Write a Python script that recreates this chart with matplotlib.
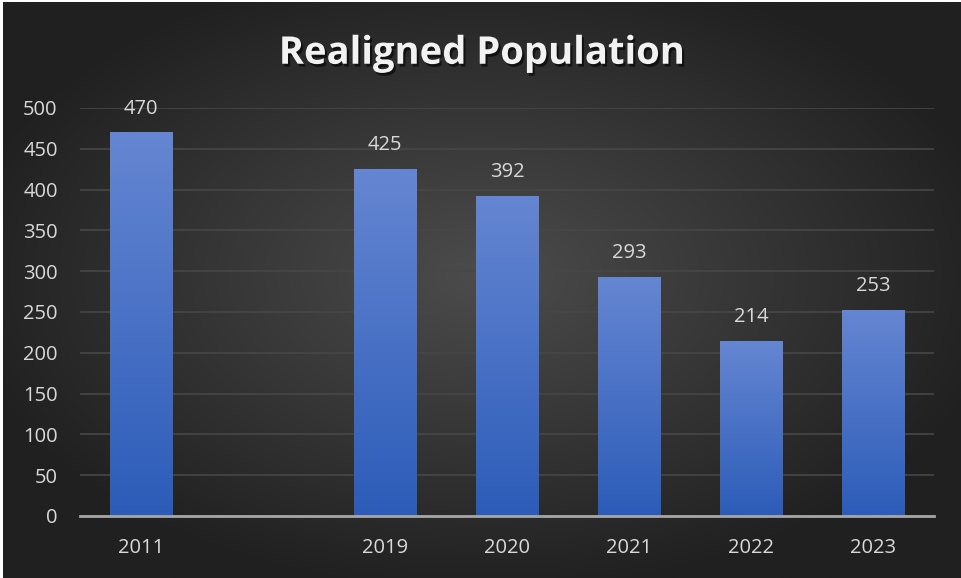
import numpy as np
import matplotlib
matplotlib.use('Agg')
import matplotlib.pyplot as plt
import matplotlib.patheffects as pe

plt.rcParams['font.family'] = ['Open Sans', 'DejaVu Sans']

years = ['2011', '', '2019', '2020', '2021', '2022', '2023']
population = [470, None, 425, 392, 293, 214, 253]
yticks = [0, 50, 100, 150, 200, 250, 300, 350, 400, 450, 500]

fig = plt.figure(figsize=(9.61, 5.78), dpi=100, facecolor='white')

# radial gradient background
bg = fig.add_axes([0.003, 0.0, 0.997, 0.997])
yy, xx = np.mgrid[-1:1:300j, -1:1:500j]
r = np.sqrt((xx * 0.9) ** 2 + ((yy + 0.05) * 0.9) ** 2)
r = np.clip(r, 0, 1)
c0 = np.array([0x4c, 0x4c, 0x4c]) / 255
c1 = np.array([0x20, 0x20, 0x20]) / 255
img = c0[None, None, :] * (1 - r[..., None]) + c1[None, None, :] * r[..., None]
bg.imshow(img, aspect='auto', extent=[0, 1, 0, 1], interpolation='bicubic')
bg.set_axis_off()

ax = fig.add_axes([0.0832, 0.1073, 0.8887, 0.7059])
ax.patch.set_alpha(0)
x = np.arange(len(years))
vals = [v if v is not None else 0 for v in population]
bars = ax.bar(x, vals, width=0.51, color='none', zorder=3)

grad = np.linspace(0, 1, 256)[:, None]
top = np.array([0x65, 0x86, 0xd2]) / 255
bot = np.array([0x2c, 0x5c, 0xb8]) / 255
gimg = top[None, None, :] * (1 - grad[..., None]) + bot[None, None, :] * grad[..., None]
for b, v in zip(bars, population):
    if v is None:
        continue
    x0 = b.get_x()
    w = b.get_width()
    im = ax.imshow(gimg, aspect='auto', extent=[x0, x0 + w, 0, v], zorder=3)
    im.set_clip_path(b)
    ax.text(x0 + w / 2, v + 17, str(v), ha='center', va='bottom',
            fontsize=14.5, color='#d9d9d9', zorder=4)

ax.set_xlim(-0.5, len(years) - 0.5)
ax.set_ylim(0, 500)
ax.set_yticks(yticks)
ax.set_xticks(x)
ax.set_xticklabels(years)
ax.tick_params(axis='both', length=0, labelsize=14.5, colors='#d9d9d9')
ax.tick_params(axis='x', pad=16)
ax.tick_params(axis='y', pad=16)
ax.grid(axis='y', color='#474747', linewidth=1.2, zorder=0)
for s in ['top', 'right', 'left']:
    ax.spines[s].set_visible(False)
ax.spines['bottom'].set_color('#a6a6a6')
ax.spines['bottom'].set_linewidth(2)
ax.spines['bottom'].set_zorder(5)

fig.text(0.502, 0.907, 'Realigned Population', ha='center', va='center',
         fontsize=27.5, fontweight='bold', color='#f2f2f2',
         path_effects=[pe.withSimplePatchShadow(offset=(1.5, -2), shadow_rgbFace='black', alpha=0.6)])

plt.savefig('out.png', dpi=100, facecolor=fig.get_facecolor())
